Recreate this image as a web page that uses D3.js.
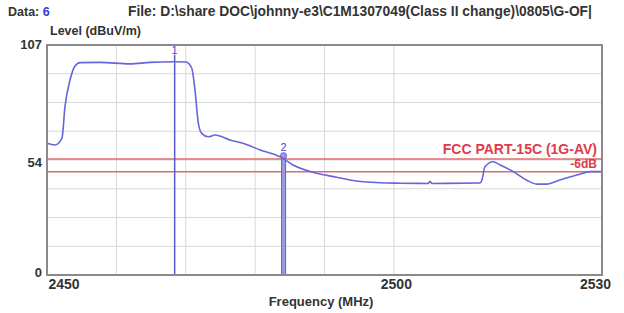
<!DOCTYPE html>
<meta charset="utf-8">
<style>
  body { margin: 0; background: #fff; }
  svg { font-family: "Liberation Sans", Arial, sans-serif; font-weight: bold; }
  .grid line { stroke: #d8d8d8; stroke-width: 1; }
  .axis text { fill: #333; }
  .axis path, .axis line { display: none; }
</style>
<body>
<script src="https://d3js.org/d3.v7.min.js"></script>
<script>

// trace (MHz, dBuV/m)
var freq = [2450.0, 2451.15, 2452.16, 2452.59, 2453.32, 2454.04, 2454.76, 2457.64, 2461.96, 2464.85,
            2468.16, 2470.04, 2470.86, 2471.33, 2471.81, 2472.30, 2473.25, 2474.22, 2476.38, 2478.25,
            2480.70, 2483.59, 2485.46, 2488.88, 2491.76, 2493.68, 2498.0, 2500.88, 2504.92, 2505.2,
            2505.5, 2512.4, 2512.7, 2513.1, 2514.3, 2515.3, 2517.2, 2519.1, 2520.6, 2522.0,
            2523.9, 2526.4, 2528.3, 2530.0];
var level = [61.3, 60.5, 63.7, 78.3, 90.7, 97.2, 98.8, 98.9, 98.2, 98.9,
             99.2, 99.1, 96.3, 86.1, 70.7, 65.9, 64.3, 65.1, 62.8, 61.3,
             58.2, 55.0, 51.2, 47.3, 45.5, 44.2, 42.9, 42.7, 42.6, 43.5,
             42.6, 42.8, 44.2, 50.2, 52.7, 51.2, 48.1, 44.2, 42.3, 42.3,
             44.2, 46.5, 48.1, 48.1];

var limits = [54, 48];
var limitLabels = ["FCC PART-15C (1G-AV)", "-6dB"];
var markerFreq = [2468.4, 2484.1];
var markerNames = ["1", "2"];
var xTicks = [2450, 2500, 2530];
var yTicks = [0, 54, 107];
var xGrid = [2460, 2470, 2480, 2490, 2500];

var W = 624, H = 313;
var margin = {top: 45, right: 22, bottom: 38, left: 47};

var x = d3.scaleLinear().domain([2450, 2530]).range([margin.left, W - margin.right]);
var y = d3.scaleLinear().domain([0, 107]).range([H - margin.bottom, margin.top]);

var svg = d3.select("body").append("svg")
    .attr("width", W)
    .attr("height", H);

// grid
var yGrid = d3.range(1, 8).map(function(i) { return 107 * i / 8; });
svg.append("g").attr("class", "grid")
  .selectAll("line.h").data(yGrid).enter().append("line")
    .attr("x1", x(2450)).attr("x2", x(2530))
    .attr("y1", function(d) { return y(d); })
    .attr("y2", function(d) { return y(d); });
svg.select(".grid")
  .selectAll("line.v").data(xGrid).enter().append("line")
    .attr("x1", function(d) { return x(d); })
    .attr("x2", function(d) { return x(d); })
    .attr("y1", y(107)).attr("y2", y(0));

// limit lines
svg.selectAll(".limit").data(limits).enter().append("line")
    .attr("class", "limit")
    .attr("x1", x(2450)).attr("x2", x(2530))
    .attr("y1", function(d) { return y(d); })
    .attr("y2", function(d) { return y(d); })
    .attr("stroke", "#e06a6a")
    .attr("stroke-width", 1.5);

svg.selectAll(".limitText").data(limits).enter().append("text")
    .attr("x", x(2530) - 5)
    .attr("y", function(d, i) { return i == 0 ? y(d) - 5 : y(d) - 4; })
    .attr("text-anchor", "end")
    .attr("fill", "#e03a4a")
    .style("font-size", function(d, i) { return i == 0 ? "14px" : "12px"; })
    .text(function(d, i) { return limitLabels[i]; });

// markers
var m = svg.append("g");
m.append("line")
    .attr("x1", x(markerFreq[0])).attr("x2", x(markerFreq[0]))
    .attr("y1", y(102.5)).attr("y2", y(0))
    .attr("stroke", "#5a5ad0").attr("stroke-width", 1.5);
m.append("rect")
    .attr("x", x(markerFreq[1]) - 2).attr("width", 4)
    .attr("y", y(55.5)).attr("height", y(0) - y(55.5))
    .attr("fill", "#9a9ae6").attr("stroke", "#6262d2").attr("stroke-width", 1);
m.append("circle")
    .attr("cx", x(markerFreq[1])).attr("cy", y(55.5)).attr("r", 3)
    .attr("fill", "#9a9ae6").attr("stroke", "#6262d2");
m.selectAll("text").data(markerFreq).enter().append("text")
    .attr("x", function(d) { return x(d); })
    .attr("y", function(d, i) { return i == 0 ? y(103) : y(57.5); })
    .attr("text-anchor", "middle")
    .attr("fill", "#4a4ad0")
    .style("font-size", "11px")
    .style("font-weight", "normal")
    .text(function(d, i) { return markerNames[i]; });

// trace
var line = d3.line()
    .x(function(d, i) { return x(freq[i]); })
    .y(function(d) { return y(d); })
    .curve(d3.curveMonotoneX);
svg.append("path")
    .datum(level)
    .attr("fill", "none")
    .attr("stroke", "#6565dc")
    .attr("stroke-width", 1.6)
    .attr("d", line);

// frame
svg.append("rect")
    .attr("x", x(2450)).attr("y", y(107))
    .attr("width", x(2530) - x(2450)).attr("height", y(0) - y(107))
    .attr("fill", "none").attr("stroke", "#8a8a8a").attr("stroke-width", 2);

// axes
var xAxis = svg.append("g").attr("class", "axis")
    .attr("transform", "translate(0," + y(0) + ")")
    .call(d3.axisBottom(x).tickValues(xTicks).tickSize(0).tickPadding(4).tickFormat(d3.format("d")));
xAxis.selectAll("text")
    .style("font-size", "14px")
    .attr("text-anchor", function(d) { return d == 2450 ? "start" : "middle"; })
    .attr("dx", function(d) { return d == 2450 ? 1 : (d == 2530 ? -7 : 2); });

var yAxis = svg.append("g").attr("class", "axis")
    .attr("transform", "translate(" + x(2450) + ",0)")
    .call(d3.axisLeft(y).tickValues(yTicks).tickSize(0).tickPadding(5));
yAxis.selectAll("text")
    .style("font-size", "13px")
    .attr("dy", function(d) { return d == 0 ? "0.15em" : (d == 54 ? "0.55em" : "0.3em"); });

svg.append("text")
    .attr("x", x(2489.5)).attr("y", H - 7)
    .attr("text-anchor", "middle")
    .attr("fill", "#333").style("font-size", "13px")
    .text("Frequency (MHz)");

svg.append("text")
    .attr("x", 50).attr("y", 35)
    .attr("fill", "#333").style("font-size", "12.5px")
    .text("Level (dBuV/m)");

// header
var head = svg.append("text").attr("x", 8).attr("y", 16)
    .attr("fill", "#333").style("font-size", "12.5px");
head.append("tspan").text("Data: ");
head.append("tspan").attr("fill", "#3a3ad8").text("6");
svg.append("text").attr("x", 128).attr("y", 16)
    .attr("fill", "#333").style("font-size", "13.8px")
    .text("File: D:\\share DOC\\johnny-e3\\C1M1307049(Class II change)\\0805\\G-OF|");

</script>
